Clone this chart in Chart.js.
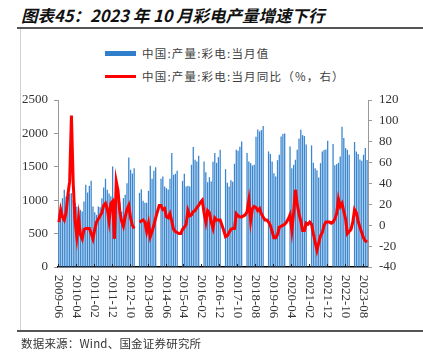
<!DOCTYPE html>
<html>
<head>
<meta charset="utf-8">
<script src="https://cdn.jsdelivr.net/npm/chart.js@4.4.1/dist/chart.umd.min.js"></script>
<style>
  html, body { margin: 0; padding: 0; background: #fff; }
  #wrap { position: relative; width: 423px; height: 353px; overflow: hidden; font-family: "Noto Sans CJK SC", sans-serif; }
  .title { position: absolute; left: 21px; top: 3px; font-size: 16.5px; font-weight: bold; font-style: italic; color: #111; white-space: nowrap; }
  .rule { position: absolute; left: 17px; right: 0; height: 2px; background: #555; }
  .vline { position: absolute; left: 20px; top: 29px; width: 1px; height: 301px; background: #d0d0d0; }
  .leg { position: absolute; left: 105px; font-size: 11.5px; color: #404040; letter-spacing: 1.2px; white-space: nowrap; line-height: 14px; }
  .sw { position: absolute; left: -37px; width: 31px; }
  .src { position: absolute; left: 21px; top: 335px; font-size: 11.5px; color: #333; white-space: nowrap; letter-spacing: 0.2px; }
  canvas { position: absolute; left: 0; top: 0; }
</style>
</head>
<body>
<div id="wrap">
  <div class="title">图表45：2023 年 10 月彩电产量增速下行</div>
  <div class="rule" style="top:27px"></div>
  <div class="vline"></div>
  <div class="leg" style="left:142px; top:46px"><span class="sw" style="top:5px; height:5px; background:#2f7fcc"></span>中国:产量:彩电:当月值</div>
  <div class="leg" style="left:142px; top:69px"><span class="sw" style="top:6px; height:3px; background:#ff0000"></span>中国:产量:彩电:当月同比（%，右）</div>
  <canvas id="chart" width="423" height="353"></canvas>
  <div class="rule" style="top:330px"></div>
  <div class="src">数据来源：Wind、国金证券研究所</div>
</div>
<script>
// Monthly categories 2009-06 .. 2023-10
const months = [];
{
  let y = 2009, m = 6;
  while (y < 2023 || (y === 2023 && m <= 10)) {
    months.push(`${y}-${String(m).padStart(2, '0')}`);
    m++;
    if (m > 12) { m = 1; y++; }
  }
}

const tickLabels = ['2009-06', '2010-04', '2011-02', '2011-12', '2012-10', '2013-08', '2014-06',
  '2015-04', '2016-02', '2016-12', '2017-10', '2018-08', '2019-06', '2020-04', '2021-02',
  '2021-12', '2022-10', '2023-08'];

// 当月值 (万台), one row per year
const output = [
  790, 870, 1030, 1155, 1055, 1130, 1100,                               // 2009-06..12
  1105, 1000, 960, 905, 890, 855, 830, 980, 1230, 1115, 1215, 1290,     // 2010
  905, 820, 780, 905, 895, 1030, 1190, 1320, 1155, 1100, 1060, 1505,    // 2011
  930, 1000, 1005, 960, 830, 1030, 1080, 1255, 1640, 1455, 1400, 1480,  // 2012
  null, null, 1110, 1165, 990, 960, 960, 1140, 1515, 1320, 1440, 1495,  // 2013
  null, null, 1320, 1355, 1205, 1180, 1160, 1320, 1705, 1380, 1395, 1440, // 2014
  null, null, 1290, 1395, 1205, 1215, 1205, 1530, 1795, 1605, 1580, 1665, // 2015
  null, null, 1580, 1420, 1270, 1345, 1280, 1575, 1705, 1560, 1645, 1755, // 2016
  null, null, 1465, 1260, 1205, 1300, 1275, 1545, 1755, 1740, 1800, 1880, // 2017
  null, null, 1705, 1580, 1555, 1520, 1530, 1950, 2060, 2030, 2050, 2110, // 2018
  null, null, 1730, 1690, 1580, 1405, 1355, 1600, 1680, 1955, 1990, 2000, // 2019
  null, null, 1805, 1480, 1530, 1605, 1755, 1925, 2055, 1975, 1960, 1835, // 2020
  null, null, 1820, 1560, 1480, 1450, 1340, 1555, 1730, 1750, 1760, 1890, // 2021
  null, null, 1840, 1525, 1540, 1560, 1655, 2100, 1930, 1780, 1755, 1680, // 2022
  null, null, 1870, 1730, 1690, 1610, 1590, 1680, 1780, 1600             // 2023-01..10
];

// 当月同比 (%)
const yoy = [
  3, 15, 8, 5, 12, 29, 42,                                   // 2009-06..12
  105, 40, 5, -11, 7, -9, -13, -4, -3, -3, -3, -8,           // 2010
  -13, -4, 3, 6, 9, 12, 19, 21, 16, 4, 21, 23,               // 2011
  -13, 42, 33, 13, 4, -1, 8, 15, 19, 7, 0, -3,               // 2012
  null, null, 3, 4, 5, 3, -6, 2, -11, -6, 0, 7,              // 2013
  13, 19, 19, 15, 16, 8, 7, 11, 4, -4, -6, -7,               // 2014
  -8, -8, -4, -2, 1, 14, 9, 10, 13, 14, 17, 19,              // 2015
  22, 24, 12, 3, 14, 12, 3, -3, 7, 5, 5, 5,                  // 2016
  0, -5, -11, -10, -7, -4, -3, -3, 11, 9, 8, 8,              // 2017
  9, 10, 13, 24, 4, 16, 18, 17, 14, 16, 11, 8,               // 2018
  5, 5, 3, 0, -6, -12, -12, -9, -2, -1, 0, 1,                // 2019
  3, 6, 10, -5, 12, 34, 20, 11, 4, -5, -5, 2,                // 2020
  1, 3, 1, -8, -16, -24, -17, -10, -7, 0, 3, 3,              // 2021
  3, 2, 3, 6, 11, 25, 18, 21, 13, 6, -8, -6,                 // 2022
  -4, 3, 15, 12, 4, -2, -7, -12, -15, -16                    // 2023-01..10
];

const tickFont = { family: '"Liberation Serif", "Times New Roman", serif', size: 13 };
const tickColor = '#333';

// Vertical date labels + small inner ticks on category boundaries
const xLabels = {
  id: 'xLabels',
  afterDraw(chart) {
    const { ctx, chartArea, scales: { x } } = chart;
    const half = (chartArea.right - chartArea.left) / months.length / 2;
    ctx.save();
    ctx.font = `${tickFont.size}px ${tickFont.family}`;
    ctx.fillStyle = tickColor;
    ctx.strokeStyle = '#222';
    ctx.lineWidth = 1;
    ctx.textBaseline = 'middle';
    ctx.textAlign = 'left';
    tickLabels.forEach(lbl => {
      const i = months.indexOf(lbl);
      if (i < 0) return;
      const px = Math.round(x.getPixelForValue(i) - half) + 0.5;
      ctx.beginPath();
      ctx.moveTo(px, chartArea.bottom);
      ctx.lineTo(px, chartArea.bottom - 3);
      ctx.stroke();
      ctx.save();
      ctx.translate(px, chartArea.bottom + 8);
      ctx.rotate(Math.PI / 2);
      ctx.fillText(lbl, 0, 0);
      ctx.restore();
    });
    ctx.restore();
  }
};

new Chart(document.getElementById('chart'), {
  type: 'bar',
  data: {
    labels: months,
    datasets: [
      {
        type: 'line',
        label: '中国:产量:彩电:当月同比（%，右）',
        data: yoy,
        yAxisID: 'y1',
        borderColor: '#ff0000',
        borderWidth: 3,
        pointRadius: 0,
        tension: 0,
        spanGaps: false,
        order: 0
      },
      {
        type: 'bar',
        label: '中国:产量:彩电:当月值',
        data: output,
        yAxisID: 'y',
        backgroundColor: '#3a86cf',
        barPercentage: 0.72,
        categoryPercentage: 1,
        order: 1
      }
    ]
  },
  options: {
    responsive: false,
    animation: false,
    layout: { padding: { top: 100, bottom: 86, left: 0, right: 0 } },
    plugins: { legend: { display: false }, tooltip: { enabled: false } },
    scales: {
      x: {
        offset: true,
        grid: { display: false, drawTicks: false },
        ticks: { display: false },
        border: { color: '#000', width: 1.5 },
        afterFit(s) { s.height = 0; }
      },
      y: {
        position: 'left',
        min: 0, max: 2500,
        ticks: { stepSize: 500, font: tickFont, color: tickColor, padding: 6, callback: v => String(v) },
        grid: { drawOnChartArea: false, tickLength: 4, color: '#999' },
        border: { color: '#999' },
        afterFit(s) { s.width = 58; }
      },
      y1: {
        position: 'right',
        min: -40, max: 120,
        ticks: { stepSize: 20, font: tickFont, color: tickColor, padding: 7, callback: v => String(v) },
        grid: { drawOnChartArea: false, tickLength: 4, color: '#999' },
        border: { color: '#999' },
        afterFit(s) { s.width = 55; }
      }
    }
  },
  plugins: [xLabels]
});
</script>
</body>
</html>
